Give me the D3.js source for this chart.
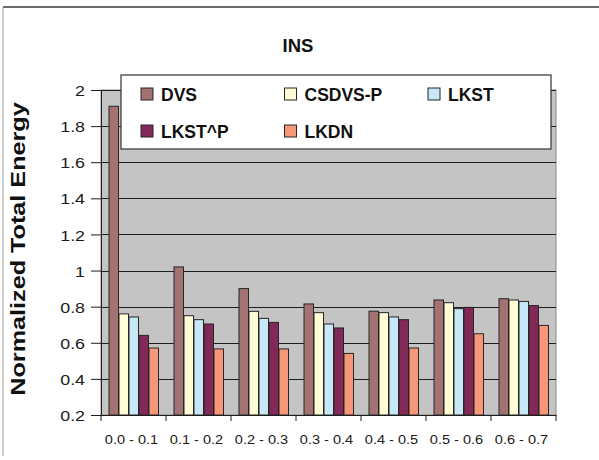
<!DOCTYPE html>
<html>
<head>
<meta charset="utf-8">
<script src="https://cdn.jsdelivr.net/npm/d3@7"></script>
<style>
  html, body { margin: 0; padding: 0; background: #fff; }
  svg { display: block; font-family: "Liberation Sans", Arial, sans-serif; }
</style>
</head>
<body>
<svg id="chart" width="599" height="460"></svg>
<script>
// Utilisation ranges along the x axis
const categories = ["0.0 - 0.1", "0.1 - 0.2", "0.2 - 0.3", "0.3 - 0.4", "0.4 - 0.5", "0.5 - 0.6", "0.6 - 0.7"];
// Scheduling policies
const seriesNames = ["DVS", "CSDVS-P", "LKST", "LKST^P", "LKDN"];
const seriesColors = ["#a37272", "#fffcd6", "#c8e7f7", "#832958", "#f7977a"];
// Normalized total energy, one array per policy
const dvs     = [1.91, 1.02, 0.90, 0.815, 0.775, 0.837, 0.844];
const csdvsP  = [0.76, 0.75, 0.774, 0.767, 0.767, 0.822, 0.837];
const lkst    = [0.743, 0.728, 0.735, 0.704, 0.743, 0.789, 0.829];
const lkstP   = [0.641, 0.704, 0.713, 0.682, 0.728, 0.796, 0.806];
const lkdn    = [0.571, 0.566, 0.566, 0.541, 0.571, 0.65, 0.696];
const yTicks  = [0.2, 0.4, 0.6, 0.8, 1, 1.2, 1.4, 1.6, 1.8, 2];
const chartTitle = "INS";
const yTitle = "Normalized Total Energy";

const seriesValues = [dvs, csdvsP, lkst, lkstP, lkdn];

const svg = d3.select("#chart");
const plot = { left: 101, right: 556, top: 90, bottom: 415 };

const x0 = d3.scaleBand().domain(categories).range([plot.left, plot.right]).padding(0);
const bw = x0.bandwidth();
const x1 = d3.scaleBand().domain(seriesNames)
  .range([bw * 0.75 / 6.5, bw * (1 - 0.75 / 6.5)]).padding(0);
const y = d3.scaleLinear().domain([0.2, 2]).range([plot.bottom, plot.top]);

// outer frame lines
svg.append("line").attr("x1", 3).attr("x2", 599).attr("y1", 7).attr("y2", 7)
  .attr("stroke", "#3a3a3a").attr("stroke-width", 1.5);
svg.append("line").attr("x1", 3).attr("x2", 3).attr("y1", 7).attr("y2", 456)
  .attr("stroke", "#9a9a9a").attr("stroke-width", 1);

// plot background
svg.append("rect")
  .attr("x", plot.left).attr("y", plot.top)
  .attr("width", plot.right - plot.left).attr("height", plot.bottom - plot.top)
  .attr("fill", "#c4c4c4").attr("stroke", "#8a8a8a").attr("stroke-width", 1);

// horizontal gridlines
svg.append("g").selectAll("line").data(yTicks.filter(t => t > 0.2)).join("line")
  .attr("x1", plot.left).attr("x2", plot.right)
  .attr("y1", d => Math.round(y(d)) + 0.5).attr("y2", d => Math.round(y(d)) + 0.5)
  .attr("stroke", "#1e1e1e").attr("stroke-width", 1);

// bars
const groups = svg.append("g").selectAll("g").data(categories).join("g")
  .attr("transform", c => `translate(${x0(c)},0)`);
groups.selectAll("rect")
  .data((c, ci) => seriesNames.map((s, si) => ({ s, si, v: seriesValues[si][ci] })))
  .join("rect")
  .attr("x", d => x1(d.s) + 0.5)
  .attr("width", x1.bandwidth() - 0.5)
  .attr("y", d => y(d.v))
  .attr("height", d => y(0.2) - y(d.v))
  .attr("fill", d => seriesColors[d.si])
  .attr("stroke", "#262626").attr("stroke-width", 1);

// y axis
const yAxis = svg.append("g").attr("transform", `translate(${plot.left},0)`)
  .call(d3.axisLeft(y).tickValues(yTicks).tickSize(10).tickFormat(d3.format("")));
yAxis.select(".domain").attr("stroke", "#1e1e1e");
yAxis.selectAll(".tick line").attr("stroke", "#1e1e1e");
yAxis.selectAll(".tick text").remove();
yAxis.selectAll(".tick").append("text")
  .attr("transform", "translate(-16,0) scale(1.15,1)")
  .attr("text-anchor", "end").attr("dy", "0.36em")
  .attr("fill", "#1a1a1a").style("font-size", "15.5px")
  .text(d => d3.format("")(d));

// x axis
const xAxis = svg.append("g").attr("transform", `translate(0,${plot.bottom})`)
  .call(d3.axisBottom(x0).tickSize(0).tickFormat(""));
xAxis.select(".domain").attr("stroke", "#1e1e1e");
xAxis.append("g").selectAll("line")
  .data(categories.map(c => x0(c)).concat([plot.right])).join("line")
  .attr("x1", d => d).attr("x2", d => d).attr("y1", 0).attr("y2", 6)
  .attr("stroke", "#1e1e1e");
xAxis.selectAll(".tick").append("text")
  .attr("transform", "translate(-2,29) scale(1.12,1)")
  .attr("text-anchor", "middle").attr("fill", "#1a1a1a")
  .style("font-size", "13px")
  .text(d => d);

// title
svg.append("text").attr("x", 298).attr("y", 52)
  .attr("text-anchor", "middle").attr("font-weight", "bold")
  .style("font-size", "18.5px").attr("fill", "#111").text(chartTitle);

// y axis title
svg.append("text")
  .attr("transform", "translate(25,249) rotate(-90) scale(1.2,1)")
  .attr("text-anchor", "middle").attr("font-weight", "bold")
  .style("font-size", "21px").attr("fill", "#111").text(yTitle);

// legend
const legend = svg.append("g");
legend.append("rect").attr("x", 121).attr("y", 75).attr("width", 430).attr("height", 74)
  .attr("fill", "#fff").attr("stroke", "#333").attr("stroke-width", 1.2);
const items = legend.selectAll("g").data(seriesNames).join("g")
  .attr("transform", (d, i) => `translate(${141 + (i % 3) * 143.5},${88 + Math.floor(i / 3) * 37})`);
items.append("rect").attr("width", 12).attr("height", 12)
  .attr("fill", (d, i) => seriesColors[i]).attr("stroke", "#262626").attr("stroke-width", 1);
items.append("text").attr("x", 20).attr("y", 12.5)
  .attr("font-weight", "bold").style("font-size", "17.5px").attr("fill", "#111")
  .text(d => d);
</script>
</body>
</html>
